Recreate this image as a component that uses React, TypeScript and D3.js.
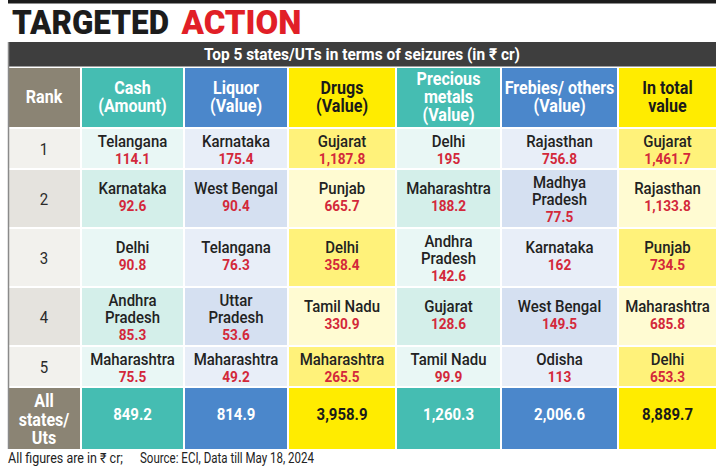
import React from "react";
import * as d3 from "d3";

// ---------- DATA ----------
const titleDark = "TARGETED";
const titleRed = "ACTION";
const subtitle = "Top 5 states/UTs in terms of seizures (in ₹ cr)";
const footNote = "All figures are in ₹ cr;";
const footSource = "Source: ECI, Data till May 18, 2024";

const columnKeys = ["rank", "cash", "liquor", "drugs", "metals", "freebies", "total"];
const columnHeaders = [
  ["Rank"],
  ["Cash", "(Amount)"],
  ["Liquor", "(Value)"],
  ["Drugs", "(Value)"],
  ["Precious", "metals", "(Value)"],
  ["Frebies/ others", "(Value)"],
  ["In total", "value"],
];
const ranks = ["1", "2", "3", "4", "5"];
const cashStates = ["Telangana", "Karnataka", "Delhi", "Andhra\nPradesh", "Maharashtra"];
const cashValues = [114.1, 92.6, 90.8, 85.3, 75.5];
const liquorStates = ["Karnataka", "West Bengal", "Telangana", "Uttar\nPradesh", "Maharashtra"];
const liquorValues = [175.4, 90.4, 76.3, 53.6, 49.2];
const drugsStates = ["Gujarat", "Punjab", "Delhi", "Tamil Nadu", "Maharashtra"];
const drugsValues = [1187.8, 665.7, 358.4, 330.9, 265.5];
const metalsStates = ["Delhi", "Maharashtra", "Andhra\nPradesh", "Gujarat", "Tamil Nadu"];
const metalsValues = [195, 188.2, 142.6, 128.6, 99.9];
const freebiesStates = ["Rajasthan", "Madhya\nPradesh", "Karnataka", "West Bengal", "Odisha"];
const freebiesValues = [756.8, 77.5, 162, 149.5, 113];
const totalStates = ["Gujarat", "Rajasthan", "Punjab", "Maharashtra", "Delhi"];
const totalValues = [1461.7, 1133.8, 734.5, 685.8, 653.3];
const allStatesLabel = ["All", "states/", "Uts"];
const allStatesTotals = [849.2, 814.9, 3958.9, 1260.3, 2006.6, 8889.7];

// ---------- STYLE ----------
const FONT = "Roboto, 'Noto Sans', 'DejaVu Sans', sans-serif";
const SX = 0.88;
const themes: Record<string, { head: string; odd: string; even: string; headText: string }> = {
  rank: { head: "#8b8474", odd: "#f2f1ed", even: "#e5e3de", headText: "#ffffff" },
  teal: { head: "#45bdb2", odd: "#e9f7f5", even: "#d4efea", headText: "#ffffff" },
  blue: { head: "#4b87cb", odd: "#e8eef8", even: "#d5e0f1", headText: "#ffffff" },
  yellow: { head: "#ffec00", odd: "#fff27a", even: "#fffbd2", headText: "#1a1a1a" },
};
const columnTheme = ["rank", "teal", "blue", "yellow", "teal", "blue", "yellow"];
const VALUE_RED = "#d3283a";

function T({ x, y, size, weight = 400, fill = "#222", sx = SX, children }: any) {
  return (
    <text
      transform={`translate(${x},${y}) scale(${sx},1)`}
      textAnchor="middle"
      fontSize={size}
      fontWeight={weight}
      fill={fill}
      fontFamily={FONT}
    >
      {children}
    </text>
  );
}

export default function App() {
  const W = 723;
  const H = 474;
  const fmt = d3.format(",");

  const colLeft = d3.scaleOrdinal<string, number>().domain(columnKeys).range([8, 82, 185, 289, 397, 502, 619]);
  const colWidth = d3.scaleOrdinal<string, number>().domain(columnKeys).range([72, 101, 102, 106, 103, 115, 97]);
  const cx = (k: string) => colLeft(k) + colWidth(k) / 2;

  const bodyStates = [cashStates, liquorStates, drugsStates, metalsStates, freebiesStates, totalStates];
  const bodyValues = [cashValues, liquorValues, drugsValues, metalsValues, freebiesValues, totalValues];

  // rows
  const headerTop = 68;
  const headerH = 59;
  const gap = 2;
  const rowLines = ranks.map((_, i) => d3.max(bodyStates, (s) => s[i].split("\n").length + 1) as number);
  const rowH = rowLines.map((n) => (n >= 3 ? 57 : 39));
  const rowTop = rowH.map((_, i) => headerTop + headerH + gap + d3.sum(rowH.slice(0, i)) + gap * i);
  const totalTop = rowTop[4] + rowH[4] + gap;
  const totalH = 449 - totalTop;

  const LH = 17;

  return (
    <svg width={W} height={H} style={{ position: "absolute", left: 0, top: 0 }}>
      <rect x={0} y={0} width={W} height={H} fill="#ffffff" />
      {/* top rule */}
      <rect x={8} y={0} width={708} height={3.5} fill="#1b1b1b" />
      {/* title */}
      <text x={12} y={33.5} fontFamily={FONT} fontWeight={900} fontSize={33} fill="#1c1c1c" textLength={157} lengthAdjust="spacingAndGlyphs">
        {titleDark}
      </text>
      <text x={181.5} y={33.5} fontFamily={FONT} fontWeight={900} fontSize={33} fill="#e11f27" textLength={120} lengthAdjust="spacingAndGlyphs">
        {titleRed}
      </text>
      {/* subtitle bar */}
      <rect x={8} y={42} width={708} height={24.5} fill="#3e3e3e" />
      <text x={362} y={60} textAnchor="middle" fontFamily={FONT} fontWeight={700} fontSize={16.5} fill="#ffffff" textLength={316} lengthAdjust="spacingAndGlyphs">
        {subtitle}
      </text>

      {/* header row */}
      {columnKeys.map((k, ci) => {
        const th = themes[columnTheme[ci]];
        const lines = columnHeaders[ci];
        const center = headerTop + headerH / 2;
        const lh = lines.length === 1 ? 0 : 18;
        return (
          <g key={"h" + k}>
            <rect x={colLeft(k)} y={headerTop} width={colWidth(k)} height={headerH} fill={th.head} />
            {lines.map((ln, li) => (
              <T
                key={li}
                x={cx(k)}
                y={center + (li - (lines.length - 1) / 2) * lh + 5.5}
                size={ci === 0 ? 17.5 : 17.5}
                sx={0.92}
                weight={700}
                fill={th.headText}
              >
                {ln}
              </T>
            ))}
          </g>
        );
      })}

      {/* body rows */}
      {ranks.map((r, ri) => {
        const top = rowTop[ri];
        const h = rowH[ri];
        const center = top + h / 2;
        const m = rowLines[ri];
        return (
          <g key={"r" + ri}>
            {columnKeys.map((k, ci) => {
              const th = themes[columnTheme[ci]];
              const fill = ri % 2 === 0 ? th.odd : th.even;
              let content: any = null;
              if (ci === 0) {
                content = (
                  <T x={cx(k)} y={center + 6} size={17} fill="#2a2a2a">
                    {r}
                  </T>
                );
              } else {
                const names = bodyStates[ci - 1][ri].split("\n");
                const val = fmt(bodyValues[ci - 1][ri]);
                const lines = [...names, val];
                const n = lines.length;
                const c = center - (m - n) * 3;
                content = lines.map((ln, li) => (
                  <T
                    key={li}
                    x={cx(k)}
                    y={c + (li - (n - 1) / 2) * LH + 6.5}
                    size={li === n - 1 ? 15.5 : 17}
                    weight={li === n - 1 ? 700 : 500}
                    fill={li === n - 1 ? VALUE_RED : "#222"}
                  >
                    {ln}
                  </T>
                ));
              }
              return (
                <g key={k}>
                  <rect x={colLeft(k)} y={top} width={colWidth(k)} height={h} fill={fill} />
                  {content}
                </g>
              );
            })}
          </g>
        );
      })}

      {/* all states row */}
      {columnKeys.map((k, ci) => {
        const th = themes[columnTheme[ci]];
        const center = totalTop + totalH / 2;
        return (
          <g key={"t" + k}>
            <rect x={colLeft(k)} y={totalTop} width={colWidth(k)} height={totalH} fill={th.head} />
            {ci === 0
              ? allStatesLabel.map((ln, li) => (
                  <T key={li} x={cx(k)} y={center + (li - 1) * 18.5 + 7} size={17.5} sx={0.92} weight={700} fill="#ffffff">
                    {ln}
                  </T>
                ))
              : (
                  <T x={cx(k)} y={center + 1.5} size={17} weight={700} fill={th.headText}>
                    {fmt(allStatesTotals[ci - 1])}
                  </T>
                )}
          </g>
        );
      })}

      {/* left rule */}
      <line x1={8.5} x2={8.5} y1={42} y2={449} stroke="#8a8a8a" strokeWidth={1.5} />

      {/* footer */}
      <text x={8} y={463} fontFamily={FONT} fontSize={14} fill="#222" textLength={115} lengthAdjust="spacingAndGlyphs">
        {footNote}
      </text>
      <text x={140} y={463} fontFamily={FONT} fontSize={14} fill="#222" textLength={174} lengthAdjust="spacingAndGlyphs">
        {footSource}
      </text>
    </svg>
  );
}
